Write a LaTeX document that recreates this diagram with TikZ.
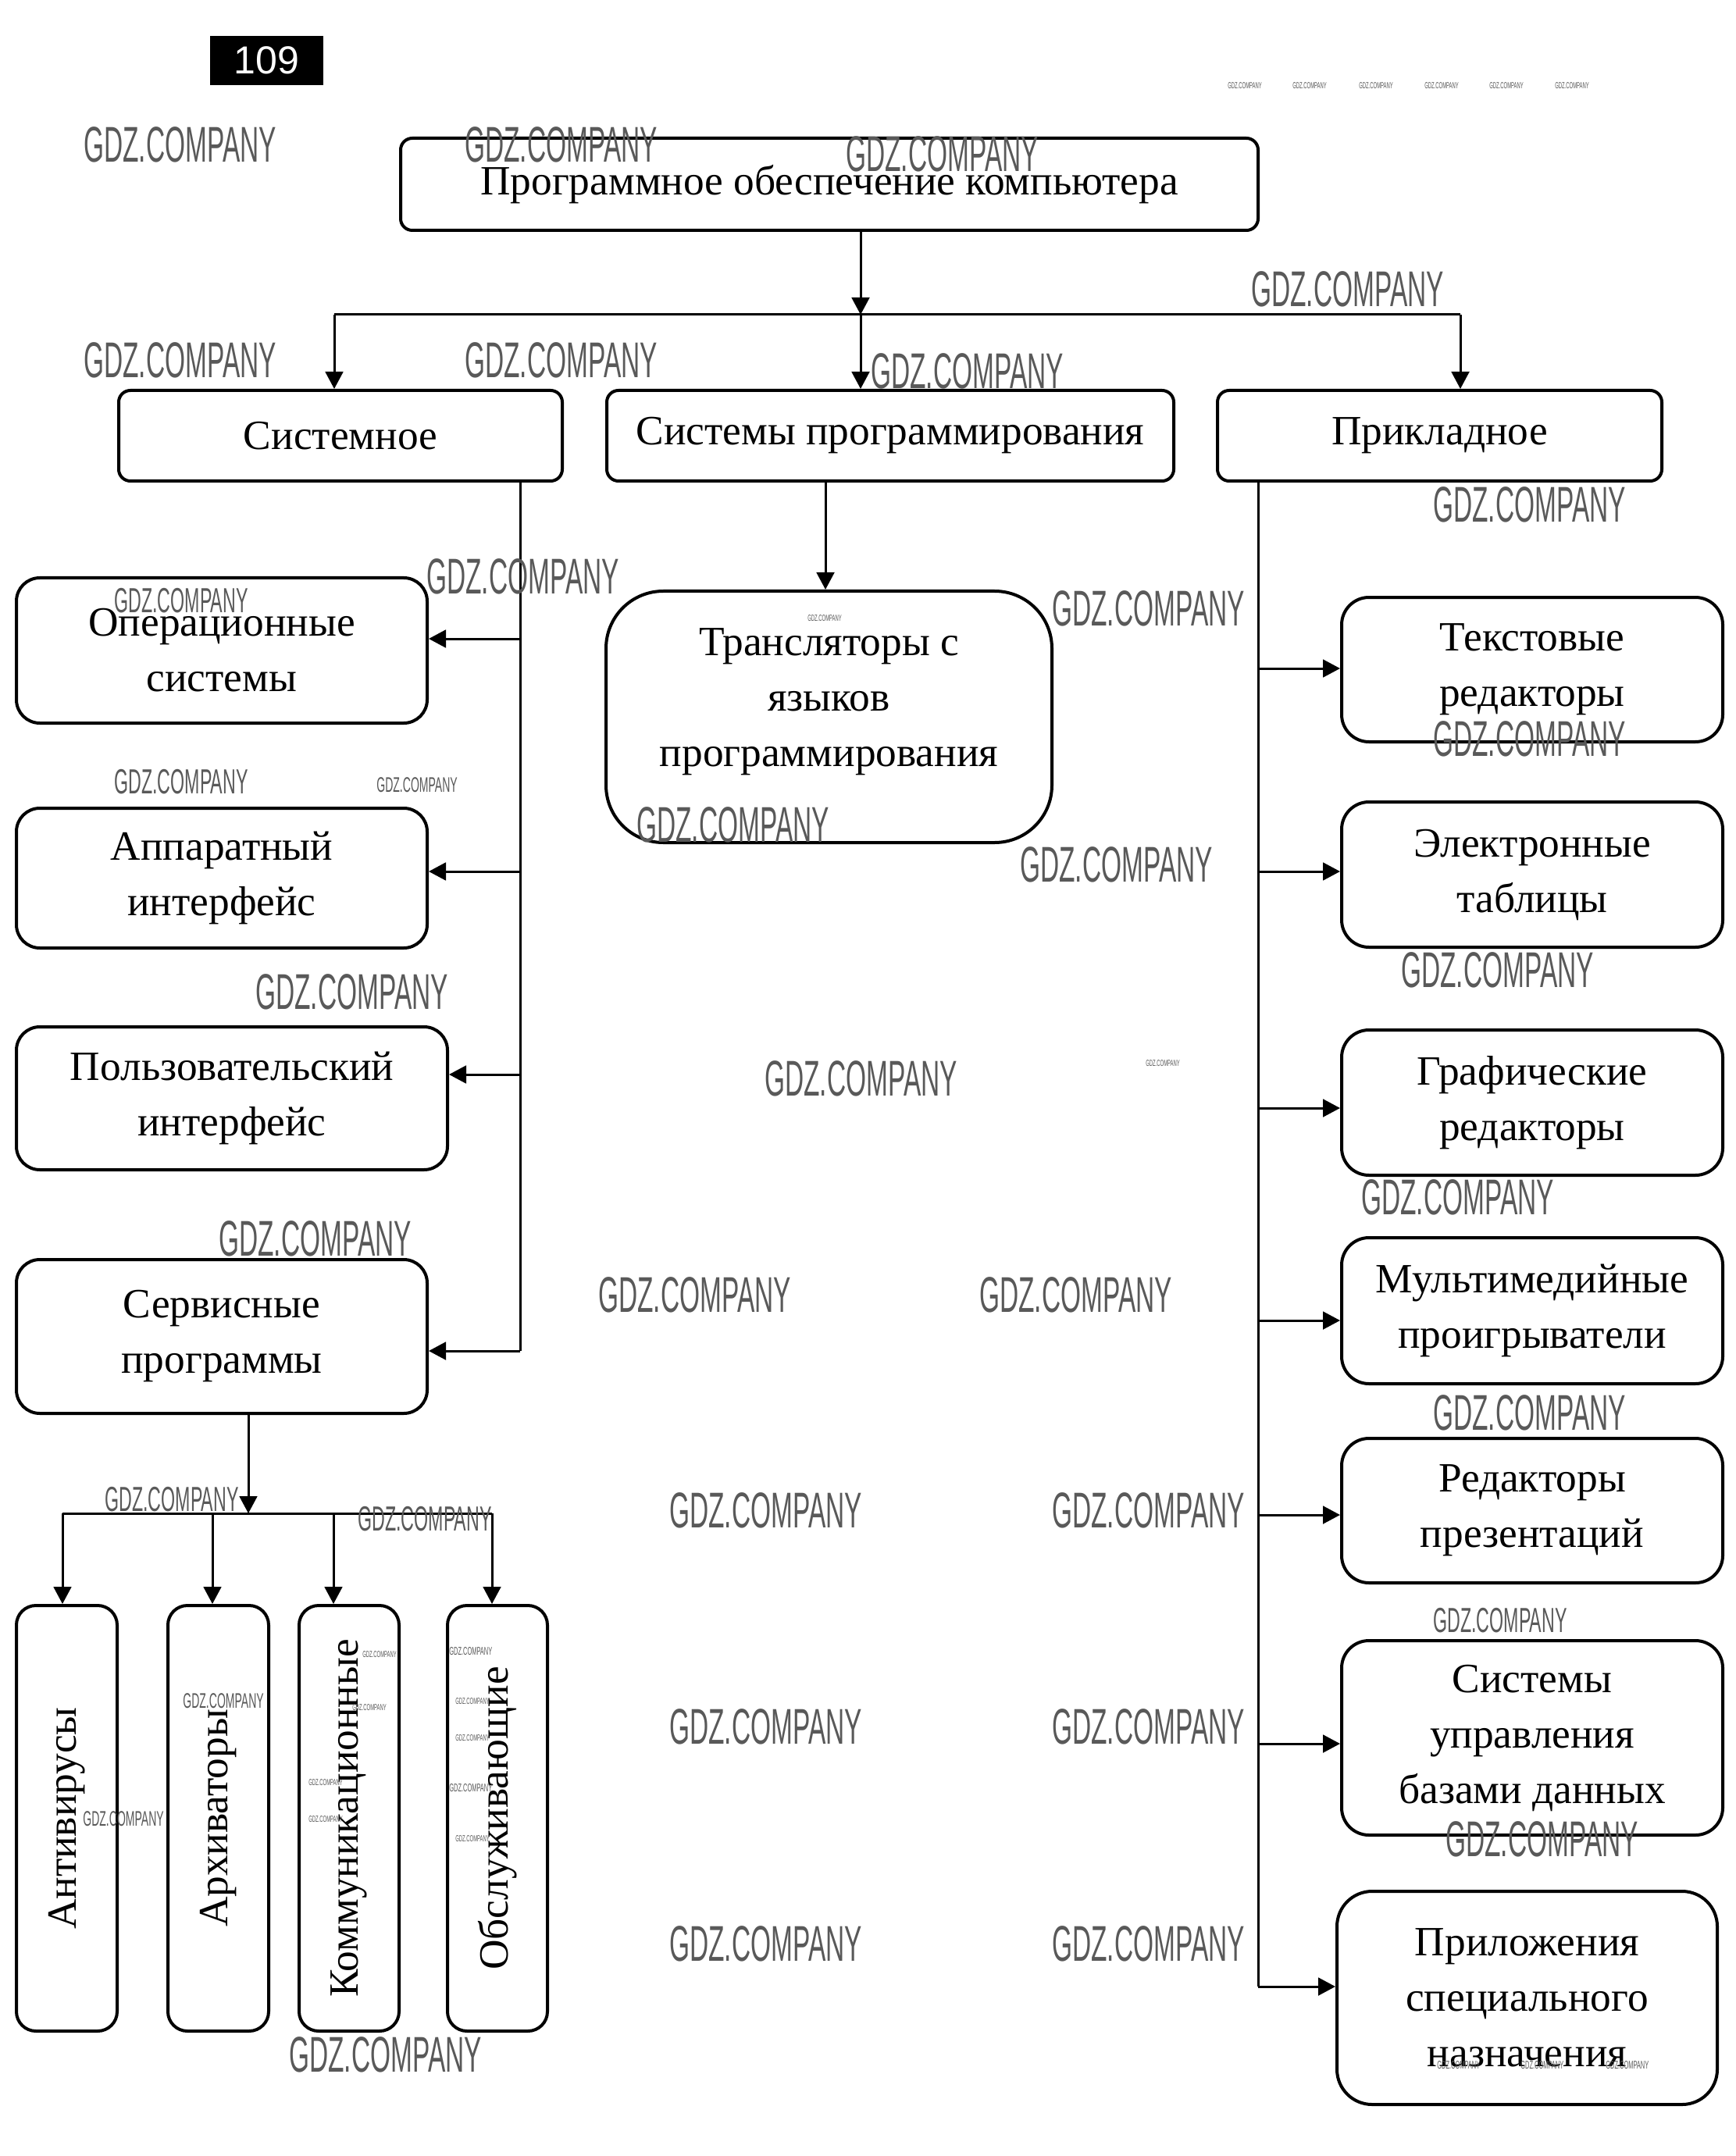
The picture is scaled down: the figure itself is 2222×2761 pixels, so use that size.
\documentclass[tikz,border=0pt]{standalone}
\usepackage{fontspec}
\setmainfont{Liberation Serif}
\newfontfamily\wmfont{Liberation Sans}
\usetikzlibrary{arrows.meta}
\begin{document}
\begin{tikzpicture}[x=0.3pt,y=-0.3pt,
  shape box/.style={draw, line width=1.2pt, rounded corners=#1, inner sep=0pt,
              font=\fontsize{16}{21.3}\selectfont},
  shape box/.default=4.5pt,
  box/.style={shape box=#1, align=center},
  box/.default=4.5pt,
  bb/.style n args={4}{minimum width={(#3-#1)*0.3pt}, minimum height={(#4-#2)*0.3pt},
                       at={({(#1+#3)/2},{(#2+#4)/2})}},
  conn/.style={line width=0.9pt},
  arr/.style={conn, -{Triangle[length=6.6pt,width=6.8pt]}},
  wm/.style={font=\wmfont\fontsize{#1}{#1}\selectfont, xscale=0.52, anchor=base west,
             inner sep=0pt, text=black!65}]
\path[fill=white,use as bounding box] (0,0) rectangle (2222,2761);

% page number
\node[fill=black, inner sep=0pt, bb={269}{46}{414}{109}, text=white,
      font=\wmfont\fontsize{15}{15}\selectfont] (pg) {109};

% level 0 / 1
\node[box, bb={513}{177}{1611}{295}] (top) {Программное обеспечение компьютера};
\node[box, bb={152}{500}{720}{616}] (sys) {Системное};
\node[box, bb={777}{500}{1503}{616}] (prog) {Системы программирования};
\node[box, bb={1559}{500}{2128}{616}] (app) {Прикладное};

% system column
\node[box=9pt, bb={21}{740}{547}{926}] (os) {Операционные\\системы};
\node[box=9pt, bb={21}{1035}{547}{1214}] (hw) {Аппаратный\\интерфейс};
\node[box=9pt, bb={21}{1315}{573}{1498}] (ui) {Пользовательский\\интерфейс};
\node[box=9pt, bb={21}{1613}{547}{1810}] (serv) {Сервисные\\программы};

% programming
\node[box=22pt, bb={776}{757}{1347}{1079}] (trans)
  {Трансляторы с\\языков\\программирования\\[-6.5pt]};

% application column
\node[box=10.5pt, bb={1718}{765}{2206}{950}] (txt) {Текстовые\\редакторы};
\node[box=10.5pt, bb={1718}{1027}{2206}{1213}] (tab) {Электронные\\таблицы};
\node[box=10.5pt, bb={1718}{1319}{2206}{1505}] (gra) {Графические\\редакторы};
\node[box=10.5pt, bb={1718}{1585}{2206}{1772}] (mm) {Мультимедийные\\проигрыватели};
\node[box=10.5pt, bb={1718}{1842}{2206}{2027}] (pres) {Редакторы\\презентаций};
\node[box=10.5pt, bb={1718}{2101}{2206}{2350}] (db) {Системы\\управления\\базами данных};
\node[box=13.5pt, bb={1712}{2422}{2199}{2695}] (spec) {Приложения\\специального\\назначения};

% service programs
\node[shape box=7.5pt, bb={21}{2056}{150}{2601}] (av) {\rotatebox{90}{Антивирусы}};
\node[shape box=7.5pt, bb={215}{2056}{344}{2601}] (ar) {\rotatebox{90}{Архиваторы}};
\node[shape box=7.5pt, bb={383}{2056}{511}{2601}] (com) {\rotatebox{90}{Коммуникационные}};
\node[shape box=7.5pt, bb={573}{2056}{701}{2601}] (svc) {\rotatebox{90}{Обслуживающие}};

% ---- connectors ----
\coordinate (jt) at (1102,403);
\coordinate (jl) at (428,403);
\coordinate (jr) at (1870,403);
\draw[arr] (top.south -| jt) -- (jt);
\draw[conn] (jl) -- (jr);
\draw[arr] (jl) -- (jl |- sys.north);
\draw[arr] (jt) -- (jt |- prog.north);
\draw[arr] (jr) -- (jr |- app.north);

% system spine
\coordinate (l1) at (666,818);
\coordinate (l2) at (666,1116);
\coordinate (l3) at (666,1376);
\coordinate (l4) at (666,1730);
\draw[conn] (sys.south -| l4) -- (l4);
\draw[arr] (l1) -- (os.east |- l1);
\draw[arr] (l2) -- (hw.east |- l2);
\draw[arr] (l3) -- (ui.east |- l3);
\draw[arr] (l4) -- (serv.east |- l4);

% programming
\coordinate (pc) at (1057,700);
\draw[arr] (prog.south -| pc) -- (trans.north -| pc);

% application spine
\coordinate (r1) at (1611,856);
\coordinate (r2) at (1611,1116);
\coordinate (r3) at (1611,1419);
\coordinate (r4) at (1611,1691);
\coordinate (r5) at (1611,1940);
\coordinate (r6) at (1611,2233);
\coordinate (r7) at (1611,2544);
\draw[conn] (app.south -| r7) -- (r7);
\draw[arr] (r1) -- (txt.west |- r1);
\draw[arr] (r2) -- (tab.west |- r2);
\draw[arr] (r3) -- (gra.west |- r3);
\draw[arr] (r4) -- (mm.west |- r4);
\draw[arr] (r5) -- (pres.west |- r5);
\draw[arr] (r6) -- (db.west |- r6);
\draw[arr] (r7) -- (spec.west |- r7);

% service branch
\coordinate (bj) at (318,1938);
\coordinate (b1) at (80,1938);
\coordinate (b2) at (272,1938);
\coordinate (b3) at (427,1938);
\coordinate (b4) at (630,1938);
\draw[arr] (serv.south -| bj) -- (bj);
\draw[conn] (b1) -- (b4);
\draw[arr] (b1) -- (b1 |- av.north);
\draw[arr] (b2) -- (b2 |- ar.north);
\draw[arr] (b3) -- (b3 |- com.north);
\draw[arr] (b4) -- (b4 |- svc.north);

% ---- watermarks ----
\foreach \x/\y/\s [count=\i] in {
  107/208/19.3, 595/208/19.3, 1083/220/19.3, 1602/393/19.3, 107/484/19.3,
  595/484/19.3, 1115/498/19.3, 1835/669/19.3, 546/761/19.3, 146/784/13.4,
  1347/801/19.3, 1034/796/3.4, 146/1016/13.4, 482/1014/8.1, 815/1078/19.3,
  1835/968/19.3, 1306/1129/19.3, 1794/1264/19.3, 327/1292/19.3, 979/1403/19.3,
  1467/1365/3.4, 1743/1555/19.3, 280/1608/19.3, 766/1680/19.3, 1254/1680/19.3,
  1835/1831/19.3, 134/1935/13.4, 458/1960/13.4, 857/1956/19.3, 1347/1956/19.3,
  1835/2090/13.4, 857/2233/19.3, 1347/2233/19.3, 234/2187/8.1, 106/2338/8.1,
  1851/2377/19.3, 857/2511/19.3, 1347/2511/19.3, 370/2653/19.3,
  1572/114/3.4, 1655/114/3.4, 1740/114/3.4, 1824/114/3.4, 1907/114/3.4, 1991/114/3.4,
  464/2122/3.4, 451/2190/3.4, 395/2286/3.4, 395/2333/3.4,
  575/2119/4.3, 583/2182/3.4, 583/2229/3.4, 575/2294/4.3, 583/2358/3.4,
  1840/2649/4.3, 1947/2649/4.3, 2056/2649/4.3}
  \node[wm=\s] (wm\i) at (\x,\y) {GDZ.COMPANY};
\end{tikzpicture}
\end{document}
